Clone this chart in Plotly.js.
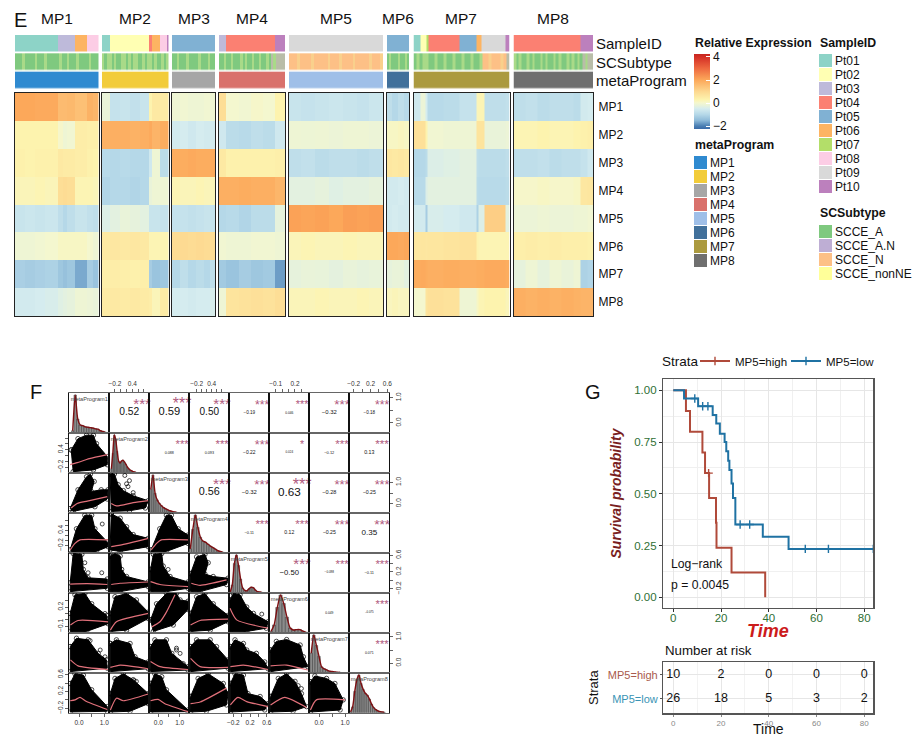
<!DOCTYPE html>
<html><head><meta charset="utf-8">
<script src="https://cdn.plot.ly/plotly-3.0.1.min.js"></script>
<style>html,body{margin:0;padding:0;background:#fff}</style></head>
<body><div id="chart" style="width:920px;height:737px"></div>
<script>
/* ---------- E: heatmap values (relative expression) ---------- */
const rowNames=['MP1','MP2','MP3','MP4','MP5','MP6','MP7','MP8'];
const groupNames=['MP1','MP2','MP3','MP4','MP5','MP6','MP7','MP8'];
const mp1Cells=[0,10,20,30,43,48,52,60,72,78,84];
const mp1Z=[[2,2,1.95,1.95,1.6,1.6,1.65,1.5,1.8,1.7],
[.3,.3,.3,.3,.05,-.1,-.05,.45,.4,.4],
[.35,.3,.35,.35,.55,.5,.5,.45,.35,.3],
[.2,.2,.25,.2,.85,.9,.85,.25,.25,.2],
[-.7,-.65,-.7,-.65,-.85,-1,-.85,-.7,-.8,-.85],
[-.1,-.1,-.05,0,.1,.1,.1,.1,0,-.1],
[-1.15,-1.2,-1.15,-1.1,-1.3,-1.4,-1.3,-1.65,-1.2,-1.35],
[-.55,-.55,-.5,-.45,-.35,-.3,-.25,-.1,-.15,-.2]];
const mp2Cells=[0,8,18,28,38,47,50,58,66];
const mp2Z=[[-.2,-.75,-.7,-.8,-.7,.3,.55,.5],
[1.8,1.85,1.85,1.8,1.85,1.95,1.75,1.9],
[-.95,-1,-.95,-1,-1,-.6,-.1,-.9],
[-1.05,-1,-1,-1.05,-1,-.2,-.1,-.1],
[-.4,-.3,-.2,-.25,-.3,-.7,-.7,-.75],
[.55,.6,.55,.6,.55,.25,.25,.25],
[.4,.45,.4,.35,.4,-1.2,-1.35,-1.3],
[.5,.55,.5,.55,.5,.45,.2,.5]];
const mp3Cells=[0,8,16,24,32,38,43];
const mp3Z=[[-.1,-.05,-.1,-.1,-.05,-.1],
[-.55,-.5,-.6,-.5,-.55,-.55],
[1.9,1.9,1.95,1.9,1.9,1.95],
[.25,.2,.2,.25,.2,.2],
[-.75,-.75,-.8,-.75,-.7,-.75],
[.9,.95,.9,.95,.9,.9],
[-1,-.85,-1,-.9,-1,-.85],
[-.5,-.5,-.55,-.5,-.5,-.45]];
const mp4Cells=[0,7,20,32,44,56,66];
const mp4Z=[[.85,0,-.05,.05,0,.3],
[-.6,-.9,-.95,-.85,-.9,-.6],
[.55,.35,.35,.35,.35,.4],
[1.85,1.85,1.9,1.85,1.85,1.7],
[-1,-.95,-1.05,-.9,-.9,-.25],
[-.05,-.1,-.1,-.05,-.05,-.1],
[-1.25,-1.35,-1.2,-1.3,-1.25,-1.75],
[-.1,.7,.75,.8,.75,.85]];
const mp5Cells=[0,12,26,40,54,68,80,94];
const mp5Z=[[-.7,-.75,-.7,-.65,-.7,-.75,-.65],
[-.1,-.12,-.1,-.15,-.1,-.1,-.15],
[-.85,-.8,-.9,-.85,-.85,-.9,-.85],
[-.3,-.3,-.25,-.35,-.3,-.3,-.25],
[2.1,2.05,2.1,2,2.15,2.1,2.15],
[.2,.25,.2,.2,.25,.2,.2],
[-.25,-.2,-.22,-.28,-.2,-.25,-.22],
[.2,.2,.25,.2,.2,.25,.2]];
const mp6Cells=[0,5,11,17,22];
const mp6Z=[[-.85,-1,-.85,-.95],[.1,.1,.15,.1],[.6,.55,.6,.55],[-.55,-.55,-.5,-.55],
[-.55,-.5,-.55,-.55],[2,2,1.95,2],[-.25,-.2,-.2,-.3],[.15,.2,.15,.15]];
const mp7Cells=[0,7,12,14,30,46,63,65,71,92,96];
const mp7Z=[[-.6,-.15,-.5,-.95,-.9,-.75,.2,.25,-.85,-.8],
[.8,.8,.3,-.05,-.1,-.1,.7,.7,-.2,-.15],
[-1,-1,-.9,-.4,-.35,-.3,-.85,-.9,-.9,-.85],
[-.95,-.95,-.4,-.3,-.3,-.3,-.9,-.95,-.95,-.9],
[-.55,-.55,-1.2,-.45,-.5,-.6,-1.1,-.4,1.2,-.3],
[.6,.65,.6,.65,.7,.75,.3,.25,.25,.25],
[1.9,1.95,1.9,1.85,1.9,1.85,1.9,1.9,1.95,1.9],
[0,0,.7,.8,.75,-.1,.1,.25,.3,.2]];
const mp8Cells=[0,12,24,36,48,60,67,74,80];
const mp8Z=[[-.85,-.8,-.9,-.85,-.85,-.9,-.55,-.5],
[.25,.25,.3,.25,.25,.3,.35,.4],
[-.85,-.85,-.8,-.9,-.85,-.85,-.75,-.6],
[.05,.05,.1,.05,.05,.1,.6,.65],
[-.15,-.15,-.1,-.15,-.15,-.1,-.1,-.05],
[.4,.45,.4,.45,.4,.4,.4,.35],
[-.25,-.1,-.25,-.1,-.2,-.1,-1.1,-1.05],
[1.85,1.8,1.85,1.8,1.85,1.8,1.75,1.75]];

/* ---------- E: annotation tracks (codes into trackColors) ---------- */
const sampleNames=['Pt01','Pt02','Pt03','Pt04','Pt05','Pt06','Pt07','Pt08','Pt09','Pt10'];
const sampleColors=['#8dd3c7','#ffffb3','#bebada','#fb8072','#80b1d3','#fdb462','#b3de69','#fccde5','#d9d9d9','#bc80bd'];
const subtypeNames=['SCCE_A','SCCE_A.N','SCCE_N','SCCE_nonNE'];
const subtypeColors=['#7fc97f','#beaed4','#fdc086','#ffff99'];
const programColors=['#2f8ad0','#f2cc3a','#a6a6a6','#d9716c','#9fbfe8','#41709b','#ab9a3f','#6f6f6f'];
const stripeColors=['#a9da88','#f9d08c','#b9bda8'];
const sample1Cells=[0,43,60,72,84], sample1=[1,3,6,8];
const sample2Cells=[0,8,47,50,58,64.5,66], sample2=[1,2,4,6,8,10];
const sample3Cells=[0,43], sample3=[5];
const sample4Cells=[0,7,56,66], sample4=[3,4,10];
const sample5Cells=[0,94], sample5=[9];
const sample6Cells=[0,22], sample6=[5];
const sample7Cells=[0,7,13,15,46,63,68,92,96], sample7=[1,2,7,4,5,6,9,10];
const sample8Cells=[0,67,80], sample8=[4,10];
const sub1=[1,1,1,13,1,1,1,1,13,1,1,1,13,1,1,1,1,1,13,1,1,13,1,1,1,13,1,1,1,1,13,1,1,1];
const sub2=[13,1,13,13,1,13,1,1,13,13,1,13,1,13,13,1,1,13,1,13,13,1,13,1,1,13,1,13];
const sub3=[1,1,13,1,1,1,13,1,1,1,1,13,1,1,1,13,1,1];
const sub4=[1,1,13,1,1,13,1,1,1,13,1,13,1,1,13,1,1,13,1,1,13,1,15,13,15,15,15,15];
const sub5=[3,3,3,14,3,3,3,3,14,3,3,3,3,3,14,3,3,3,14,3,3,3,3,14,3,3,3,3,3,14,3,3,3,14];
const sub6=[1,13,1,1,1,13,1,1,13,1];
const sub7=[1,13,1,13,13,1,1,13,1,1,13,1,1,13,1,1,13,1,1,13,1,1,13,3,3,14,3,3,3,14,3,15];
const sub8=[13,1,13,1,1,13,1,13,1,1,13,1,13,1,1,13,1,13,1,1,13,1,13,1,13,1,15,13,15,15];

/* ---------- E: colour key ---------- */
const keyValues=[-2.26,-2,-1.5,-1,-.5,-.25,0,.3,1,2,3,4,4.26];
const keyColors=['#3a6aa8','#4a7fb3','#8fbbd9','#b5d8e8','#d5ecef','#e6f2dc','#f4f7cf','#fdf3ae','#fdd890','#fca85a','#ee6a40','#d42f26','#c5261f'];
const keyTicks=[-2,0,2,4];

/* ---------- F: variable scales ---------- */
const varNames=['metaProgram1','metaProgram2','metaProgram3','metaProgram4','metaProgram5','metaProgram6','metaProgram7','metaProgram8'];
const varLo=[-.385,-.397,-.42,-.49,-.296,-.2,-.373,-.305];
const varHi=[1.2,.987,1.45,1.1,.66,.423,1.165,.647];
const tickV=[[0,.5,1],[-.2,0,.2,.4,.6,.8],[0,.5,1],[-.2,0,.2,.4,.6,.8],[-.2,0,.2,.4,.6],[-.1,0,.1,.2,.3],[0,.5,1],[-.2,0,.2,.4,.6]];
const tickT=[['0.0','','1.0'],['−0.2','','','0.4','',''],['0.0','','1.0'],['−0.2','','','0.4','',''],['−0.2','','0.2','','0.6'],['−0.1','','','0.2',''],['0.0','','1.0'],['−0.2','','0.2','','0.6']];

/* F: upper triangle correlations (row, col from 1) */
const corr1=['0.52','0.59','0.50','−0.19','0.046','−0.32','−0.18'];
const corr2=['0.088','0.093','−0.22','0.024','−0.12','0.13'];
const corr3=['0.56','−0.32','0.63','−0.28','−0.25'];
const corr4=['−0.11','0.12','−0.25','0.35'];
const corr5=['−0.50','−0.098','−0.11'];
const corr6=['0.049','−0.075'];
const corr7=['0.071'];
const sig1=['***','***','***','***','***','***','***'];
const sig2=['***','***','***','*','***','***'];
const sig3=['***','***','***','***','***'];
const sig4=['***','***','***','***'];
const sig5=['***','***','***'];
const sig6=['','***'];
const sig7=['***'];

/* F: histogram / density on the diagonal */
const hist1=[[-.25,-.15,-.05,.05,.15,.25,.35,.45,.55,.65,.75,.85,.95,1.05],[.05,.97,.35,.2,.18,.15,.14,.13,.12,.1,.09,.05,.03,.01]];
const hist2=[[-.325,-.275,-.225,-.175,-.125,-.075,-.025,.025,.075,.125,.175,.225,.275,.325,.375,.425,.475,.525],[.1,.5,.97,.85,.55,.3,.25,.3,.32,.28,.22,.15,.1,.07,.05,.03,.02,.01]];
const hist3=[[-.35,-.25,-.15,-.05,.05,.15,.25,.35,.45,.55,.65,.75,.85],[.6,.97,.5,.33,.24,.18,.13,.1,.07,.05,.03,.02,.01]];
const hist4=[[-.45,-.35,-.25,-.15,-.05,.05,.15,.25,.35,.45,.55,.65,.75,.85],[.1,.6,.97,.65,.4,.3,.27,.22,.17,.13,.09,.05,.03,.01]];
const hist5=[[-.275,-.225,-.175,-.125,-.075,-.025,.025,.075,.125,.175,.225,.275,.325,.375,.425,.475],[.02,.2,.75,.97,.7,.35,.12,.06,.05,.1,.14,.13,.07,.03,.02,.01]];
const hist6=[[-.175,-.125,-.075,-.025,.025,.075,.125,.175,.225,.275,.325,.375],[.03,.2,.65,.97,.75,.4,.12,.07,.08,.08,.04,.01]];
const hist7=[[-.3,-.2,-.1,0,.1,.2,.3,.4,.5,.6,.7,.8],[.5,.97,.7,.42,.15,.1,.07,.04,.03,.02,.01,.01]];
const hist8=[[-.275,-.225,-.175,-.125,-.075,-.025,.025,.075,.125,.175,.225,.275,.325,.375,.425,.475,.525],[.02,.15,.55,.85,.97,.75,.6,.5,.45,.35,.22,.13,.08,.05,.03,.02,.01]];
const binWidths=[.1,.05,.1,.1,.05,.05,.1,.05];

/* F: lower triangle, c = outline of the point cloud, o = stray points, l = smoother; names are row then column */
var c21=[[-.31,-.04,.30,.57,.69,1.12,1.12,.57,-.23],[.39,.78,.90,.90,.61,.16,-.12,-.30,-.36]];
var l21=[[-.35,-.07,.41,1.12],[-.12,-.05,.09,.23]];
var c31=[[-.35,-.04,.30,.45,.60,.49,.88,1.15,1.12,.63,-.23],[-.23,.65,1.26,1.38,1.04,.57,.65,.65,.22,-.14,-.36]];
var l31=[[-.31,-.07,.33,1.12],[-.20,.01,.12,.33]];
var c32=[[-.37,-.22,-.09,.09,.43,.95,.85,.30,-.33],[1.39,1.39,.89,.61,.37,.14,-.20,-.33,-.36]];
var o32=[[.14,.30,.20,.25,.43],[1.32,1.08,.93,.80,.52]];
var l32=[[-.33,-.15,.43,.95],[.01,-.10,.05,.14]];
var c41=[[-.35,-.10,.23,.50,.63,1.12,1.15,.69,-.23],[-.38,.46,1.0,1.0,.46,-.06,-.25,-.44,-.46]];
var o41=[[.92],[.65]];
var l41=[[-.35,-.16,.04,1.15],[-.38,-.12,.02,.02]];
var c42=[[-.33,-.02,.20,.43,.95,.95,-.02,-.37],[1.05,.88,.54,.23,.08,-.25,-.44,-.38]];
var l42=[[-.33,-.02,.95],[-.25,-.19,.08]];
var c43=[[-.33,.07,.38,.61,.93,1.39,1.39,.38,-.33],[-.38,.46,1.0,1.0,.46,.21,-.12,-.44,-.46]];
var l43=[[-.33,-.08,.14,1.39],[-.38,-.12,.02,.02]];
var c51=[[-.35,-.23,.11,.17,.36,1.12,1.12,-.35],[-.06,.64,.62,.26,.06,.03,-.19,-.27]];
var o51=[[.90,.36,.23],[.18,.18,.42]];
var l51=[[-.35,.33,1.12],[-.09,-.08,-.10]];
var c52=[[-.37,-.20,-.02,.03,.20,.95,.95,-.02,-.37],[.58,.64,.58,.26,.09,-.04,-.15,-.27,-.27]];
var l52=[[-.33,-.02,.95],[-.10,-.07,-.04]];
var c53=[[-.36,-.23,.16,.23,.55,1.39,1.39,.38,-.36],[.26,.62,.64,.34,.09,-.04,-.19,-.27,-.27]];
var o53=[[.46],[.26]];
var l53=[[-.36,.08,1.39],[-.03,-.10,-.15]];
var c54=[[-.44,-.20,.13,.26,.13,.46,1.05,.99,-.06,-.44],[.16,.56,.62,.42,.15,.09,.05,-.10,-.27,-.27]];
var l54=[[-.41,-.06,.99],[-.07,-.12,.01]];
var c61=[[-.35,-.16,.23,.50,1.09,1.15,.30,-.35],[.10,.39,.41,.25,.07,-.06,-.18,-.18]];
var o61=[[1.03,1.12],[.10,.02]];
var l61=[[-.34,-.04,1.15],[-.08,-.01,-.03]];
var c62=[[-.36,-.20,.20,.54,.95,.95,.20,-.36],[.10,.36,.41,.31,.12,.02,-.16,-.18]];
var l62=[[-.36,-.15,.95],[-.16,-.03,.10]];
var c63=[[-.36,-.08,.38,.85,1.02,1.39,1.39,.70,-.23],[0,.25,.41,.41,.31,.29,.16,-.08,-.18]];
var l63=[[-.31,.08,.38,.78],[-.11,-.03,.12,.39]];
var c64=[[-.44,-.20,.13,.46,1.05,1.05,.34,-.44],[.10,.36,.41,.25,.07,-.03,-.16,-.18]];
var l64=[[-.44,-.06,1.05],[-.08,-.01,.01]];
var c65=[[-.28,-.20,-.04,.12,.28,.63,.59,.12,-.28],[.31,.41,.39,.20,.10,-.03,-.13,-.18,-.18]];
var o65=[[.48],[.09]];
var l65=[[-.28,-.12,.63],[.18,0,-.13]];
var c71=[[-.35,-.10,.36,.76,1.09,1.12,-.35],[.63,.95,.89,.37,.12,-.20,-.33]];
var o71=[[1.03,.84,.44],[.24,.50,.86]];
var l71=[[-.34,-.04,1.15],[.12,-.11,-.25]];
var c72=[[-.36,-.15,.32,.49,.95,.95,-.36],[.75,.89,.75,.24,.04,-.22,-.33]];
var l72=[[-.36,-.02,.95],[-.17,-.08,-.22]];
var c73=[[-.36,-.16,.38,.63,1.39,1.39,-.36],[.63,.89,.89,.37,-.14,-.27,-.33]];
var o73=[[.85,1.02,.70,1.17,.85],[.50,.37,.24,-.02,.57]];
var l73=[[-.36,.08,1.39],[.06,-.14,-.25]];
var c74=[[-.44,-.20,.34,.59,1.05,1.05,-.44],[.63,.89,.89,.63,.12,-.20,-.33]];
var l74=[[-.44,-.06,1.05],[.18,-.14,-.17]];
var c75=[[-.27,-.16,.04,.12,.35,.55,.63,-.27],[.63,.89,.75,.50,.37,.04,-.22,-.33]];
var l75=[[-.27,.04,.63],[-.14,-.08,-.25]];
var c76=[[-.18,-.09,.07,.28,.33,.40,-.18],[.50,.83,.90,.69,.24,-.14,-.33]];
var l76=[[-.18,.07,.40],[-.11,-.08,-.27]];
var c81=[[-.35,-.16,.17,.50,1.12,1.12,-.35],[.39,.62,.59,.24,-.16,-.27,-.29]];
var l81=[[-.35,-.16,.04,.30,1.12],[-.02,0,.06,-.04,-.23]];
var c82=[[-.36,-.20,.09,.43,.95,.95,.32,-.36],[.15,.51,.62,.48,.15,-.09,-.27,-.29]];
var o82=[[.46,.54],[.46,.44]];
var l82=[[-.36,-.15,.09,.95],[-.24,.04,-.02,.14]];
var c83=[[-.36,-.16,.16,.38,1.39,1.39,-.36],[.39,.62,.55,.24,-.24,-.28,-.29]];
var l83=[[-.36,-.01,.31,1.39],[-.02,.01,-.09,-.28]];
var c84=[[-.44,-.14,.26,.86,1.05,.99,.19,-.44],[.08,.51,.62,.39,.15,-.12,-.27,-.29]];
var l84=[[-.44,-.06,.99],[-.09,-.05,.28]];
var c85=[[-.27,-.16,.04,.15,.44,.63,.55,-.27],[.39,.62,.59,.15,.08,-.09,-.24,-.29]];
var l85=[[-.27,-.09,.12,.63],[-.12,.06,-.04,-.16]];
var c86=[[-.18,-.06,.07,.20,.30,.38,.17,-.18],[.08,.51,.62,.44,.15,-.16,-.27,-.29]];
var o86=[[.25,.30],[.34,.27]];
var l86=[[-.18,.04,.38],[-.12,.06,-.18]];
var c87=[[-.33,-.16,.29,.61,.93,.81,-.33],[.43,.57,.51,.39,0,-.24,-.29]];
var l87=[[-.33,-.10,1.0],[-.24,0,0]];

/* ---------- G: survival ---------- */
const highT=[0,5.3,7,12.2,13.3,15,17.9,18.1,24.4,38.5];
const highS=[1,.9,.8,.7,.6,.48,.36,.24,.12,0];
const highCensT=[14.8]; const highCensS=[.6];
const lowT=[0,4.5,10.4,16.5,18,19.5,21.5,22.2,23,23.5,24.4,25,26,37.5,48.3,83.8];
const lowS=[1,.96,.923,.88,.84,.79,.75,.705,.66,.615,.55,.48,.352,.293,.234,.234];
const lowCensT=[9,12.3,14.5,28,32,55.3,65,83.8];
const lowCensS=[.96,.923,.923,.352,.352,.234,.234,.234];
const riskTimes=[0,20,40,60,80];
const riskHigh=[10,2,0,0,0];
const riskLow=[26,18,5,3,2];

/* ---------- build ---------- */
const W=920,H=737,FONT='Liberation Sans, Arial, sans-serif';
const layout={width:W,height:H,margin:{l:0,r:0,t:0,b:0},paper_bgcolor:'#fff',plot_bgcolor:'#fff',
  font:{family:FONT,color:'#111'},annotations:[],bargap:0,showlegend:true};
const traces=[];
let axN=0;
function panel(l,t,r,b,xa,ya){
  axN++;const s=axN===1?'':axN;
  const base={showgrid:false,zeroline:false,showticklabels:false,ticks:''};
  layout['xaxis'+s]=Object.assign({domain:[l/W,r/W],anchor:'y'+s},base,xa);
  layout['yaxis'+s]=Object.assign({domain:[1-b/H,1-t/H],anchor:'x'+s},base,ya);
  return {xaxis:'x'+s,yaxis:'y'+s,showlegend:false,hoverinfo:'skip'};
}
function note(text,x,y,size,o){layout.annotations.push(Object.assign({text,x:x/W,y:1-y/H,xref:'paper',yref:'paper',
  showarrow:false,font:{size,family:FONT},xanchor:'left',yanchor:'middle',borderpad:0},o||{}));}
const norm=v=>(v-keyValues[0])/(keyValues[keyValues.length-1]-keyValues[0]);
layout.coloraxis={cmin:keyValues[0],cmax:keyValues[keyValues.length-1],
  colorscale:keyValues.map((v,i)=>[norm(v),keyColors[i]]),
  colorbar:{x:694/W,xanchor:'left',xpad:0,y:1-54/H,yanchor:'top',ypad:0,len:75,lenmode:'pixels',thickness:16,
    tickvals:keyTicks,ticks:'inside',ticklen:4,tickcolor:'#fff',tickfont:{size:12,family:FONT},outlinewidth:0}};
const trackColors=sampleColors.concat(subtypeColors,programColors,stripeColors);
const nTrack=trackColors.length,trackScale=[];
trackColors.forEach((c,i)=>{trackScale.push([i/nTrack,c],[(i+1)/nTrack,c]);});
layout.coloraxis2={cmin:.5,cmax:nTrack+.5,colorscale:trackScale,showscale:false};

const groups=[
 {px:[15,98.5],cells:mp1Cells,z:mp1Z,s:sample1,sc:sample1Cells,sub:sub1,label:57},
 {px:[102,168.5],cells:mp2Cells,z:mp2Z,s:sample2,sc:sample2Cells,sub:sub2,label:135},
 {px:[172,215],cells:mp3Cells,z:mp3Z,s:sample3,sc:sample3Cells,sub:sub3,label:194},
 {px:[219,285],cells:mp4Cells,z:mp4Z,s:sample4,sc:sample4Cells,sub:sub4,label:252},
 {px:[289,383],cells:mp5Cells,z:mp5Z,s:sample5,sc:sample5Cells,sub:sub5,label:336},
 {px:[387,409],cells:mp6Cells,z:mp6Z,s:sample6,sc:sample6Cells,sub:sub6,label:398},
 {px:[413.5,509.5],cells:mp7Cells,z:mp7Z,s:sample7,sc:sample7Cells,sub:sub7,label:461},
 {px:[513.5,593],cells:mp8Cells,z:mp8Z,s:sample8,sc:sample8Cells,sub:sub8,label:553}];
const border={showline:true,mirror:true,linecolor:'#222',linewidth:1};
groups.forEach((g,i)=>{
  const N=g.cells[g.cells.length-1],last=i===7;
  const a=panel(g.px[0],35,g.px[1],90,{range:[0,N]},Object.assign({range:[0,3]},last?{side:'right',showticklabels:true,ticklabelstandoff:2,
    tickmode:'array',tickvals:[.5,1.5,2.5],ticktext:['metaProgram','SCSubtype','SampleID'],tickfont:{size:15,family:FONT}}:{}));
  const track=(edges,yy,z)=>traces.push(Object.assign({type:'heatmap',x:edges,y:yy,z:[z],coloraxis:'coloraxis2',ygap:1.5},a));
  track(g.sc,[2,3],g.s);
  track(g.sub.concat([0]).map((_,k)=>k*N/g.sub.length),[1,2],g.sub.map(v=>v+10));
  track([0,N],[0,1],[15+i]);
  const h=panel(g.px[0],93,g.px[1],316,Object.assign({range:[0,N]},border),
    Object.assign({type:'category',range:[7.5,-.5]},border,last?{side:'right',showticklabels:true,ticklabelstandoff:2,tickmode:'array',
      tickvals:rowNames,ticktext:rowNames,tickfont:{size:12,family:FONT}}:{}));
  traces.push(Object.assign({type:'heatmap',x:g.cells,y:rowNames,z:g.z,coloraxis:'coloraxis'},h));
  note(groupNames[i],g.label,19,15.5,{xanchor:'center'});
});
note('E',13,20,20); note('F',29,392,20); note('G',584,392,20);
note('<b>Relative Expression</b>',694,43,12.3);
note('<b>SampleID</b>',819,43,12.3);
note('<b>metaProgram</b>',694,145,12.3);
note('<b>SCSubtype</b>',819,213,12.3);
function swatches(l,t,b,names,first){
  const a=panel(l,t,l+13,b,{range:[-.5,.5]},{type:'category',range:[names.length-.5,-.5],side:'right',showticklabels:true,ticklabelstandoff:2,
    tickmode:'array',tickvals:names,ticktext:names,tickfont:{size:12,family:FONT}});
  traces.push(Object.assign({type:'heatmap',x:[0],y:names,z:names.map((_,k)=>[first+k]),coloraxis:'coloraxis2',ygap:1},a));
}
swatches(694,156,268,groupNames,15);
swatches(819,54,194,sampleNames,1);
swatches(819,225,281,subtypeNames,11);

/* F grid */
const cellL=69.3,cellT=392.7,cell=40,lineH='#666',lineV='#111';
const corrRows=[corr1,corr2,corr3,corr4,corr5,corr6,corr7],sigRows=[sig1,sig2,sig3,sig4,sig5,sig6,sig7];
const hists=[hist1,hist2,hist3,hist4,hist5,hist6,hist7,hist8];
const emW=s=>[...s].reduce((w,ch)=>w+(ch==='.'?.278:ch==='−'?.584:.556),0);
for(let r=0;r<8;r++)for(let c=0;c<8;c++){
  const l=cellL+c*cell,t=cellT+r*cell;
  const tick=(i,o)=>Object.assign({tickmode:'array',tickvals:tickV[i],ticktext:tickT[i],ticks:'outside',ticklen:3,tickwidth:.7,
    tickcolor:'#222',showticklabels:true,tickfont:{size:6.5,family:FONT,color:'#333'}},o);
  let xa={range:[varLo[c],varHi[c]],showline:true,mirror:true,linecolor:lineH,linewidth:1};
  let ya={showline:true,mirror:true,linecolor:lineV,linewidth:1};
  if(r===0&&c%2===1)xa=Object.assign(xa,tick(c,{side:'top'}));
  if(r===7&&c%2===0)xa=Object.assign(xa,tick(c,{side:'bottom'}));
  ya.range=r===c?[0,1.03]:[varLo[r],varHi[r]];
  if(c===0&&r%2===1)ya=Object.assign(ya,tick(r,{side:'left',tickangle:-90}));
  if(c===7&&r%2===0)ya=Object.assign(ya,tick(r,{side:'right',tickangle:-90}));
  const a=panel(l,t,l+cell,t+cell,xa,ya);
  const sx=varHi[c]-varLo[c],sy=varHi[r]-varLo[r];
  if(r===c){
    const h=hists[r];
    traces.push(Object.assign({type:'bar',x:h[0],y:h[1],width:binWidths[r],marker:{color:'#8c8c8c',line:{color:'#222',width:.4}}},a));
    traces.push(Object.assign({type:'scatter',mode:'lines',x:h[0],y:h[1],line:{color:'#7d0f12',width:1.4,shape:'spline',smoothing:.6}},a));
    traces.push(Object.assign({type:'scatter',mode:'text',x:[varLo[c]+.5*sx],y:[.86],text:[varNames[c]],cliponaxis:false,
      textfont:{size:5.6,color:'#444',family:FONT}},a));
  }else if(r<c){
    const lab=corrRows[r][c-r-1],sig=sigRows[r][c-r-1],val=Math.abs(parseFloat(lab.replace('−','-')));
    traces.push(Object.assign({type:'scatter',mode:'text',x:[varLo[c]+.5*sx],y:[varLo[r]+.5*sy],text:[lab],cliponaxis:false,
      textfont:{size:(7+25*val)/emW(lab),color:'#111',family:FONT}},a));
    if(sig)traces.push(Object.assign({type:'scatter',mode:'text',x:[varLo[c]+.82*sx],y:[varLo[r]+.68*sy],text:[sig],cliponaxis:false,
      textfont:{size:10.5+9*val,color:'#b05a80',family:FONT}},a));
  }else{
    const key=''+(r+1)+(c+1),cl=window['c'+key],ln=window['l'+key],ot=window['o'+key];
    traces.push(Object.assign({type:'scatter',mode:'lines+markers',x:cl[0].concat(cl[0][0]),y:cl[1].concat(cl[1][0]),fill:'toself',fillcolor:'#000',
      line:{color:'#000',width:1},marker:{symbol:'circle-open',size:4.5,color:'#000',line:{width:.7}},cliponaxis:true},a));
    if(ot)traces.push(Object.assign({type:'scatter',mode:'markers',x:ot[0],y:ot[1],
      marker:{symbol:'circle-open',size:4,color:'#000',line:{width:.7}}},a));
    traces.push(Object.assign({type:'scatter',mode:'lines',x:ln[0],y:ln[1],line:{color:'#e0707a',width:1.2,shape:'spline',smoothing:.6}},a));
  }
}

/* G */
const greyGrid={showgrid:true,gridcolor:'#e6e6e6',gridwidth:1};
const frame={showline:true,mirror:true,linecolor:'#555',linewidth:1.4,zeroline:false};
const km=panel(663.3,379.3,873.3,607.7,
  Object.assign({range:[-4.19,83.8],tickvals:riskTimes,ticks:'outside',ticklen:3,tickcolor:'#333',showticklabels:true,ticklabelstandoff:-4,
    tickfont:{size:11.5,color:'#2f6f35',family:FONT},minor:{showgrid:true,gridcolor:'#f0f0f0',dtick:10,tick0:0}},greyGrid,frame),
  Object.assign({range:[-.05,1.053],tickvals:[0,.25,.5,.75,1],tickformat:'.2f',ticks:'outside',ticklen:3,tickcolor:'#333',showticklabels:true,
    tickfont:{size:11.5,color:'#2f6f35',family:FONT},minor:{showgrid:true,gridcolor:'#f0f0f0',dtick:.125,tick0:0},
    title:{text:'<b><i>Survival probability</i></b>',font:{size:14,color:'#7a1f1f',family:FONT},standoff:9}},greyGrid,frame));
note('<b><i>Time</i></b>',768,630.5,18,{xanchor:'center',font:{size:18,color:'#cc1b1b',family:FONT}});
const redC='#b04a3a',blueC='#1f72a3';
const censor=c=>({symbol:'cross-thin-open',size:6,color:c,line:{color:c,width:1.4}});
traces.push(Object.assign({},km,{type:'scatter',mode:'lines',x:highT,y:highS,line:{color:redC,width:2,shape:'hv'}}));
traces.push(Object.assign({},km,{type:'scatter',mode:'lines',x:lowT,y:lowS,line:{color:blueC,width:2,shape:'hv'},cliponaxis:true}));
traces.push(Object.assign({},km,{type:'scatter',mode:'markers',x:highCensT,y:highCensS,marker:censor(redC)}));
traces.push(Object.assign({},km,{type:'scatter',mode:'markers',x:lowCensT,y:lowCensS,marker:censor(blueC)}));
traces.push(Object.assign({},km,{type:'scatter',mode:'lines+markers',x:[-100,-99],y:[-5,-5],name:'MP5=high',showlegend:true,line:{color:redC,width:2},marker:censor(redC)}));
traces.push(Object.assign({},km,{type:'scatter',mode:'lines+markers',x:[-100,-99],y:[-5,-5],name:'MP5=low',showlegend:true,line:{color:blueC,width:2},marker:censor(blueC)}));
layout.annotations.push({text:'Log−rank',x:-1.8,y:.16,xref:km.xaxis,yref:km.yaxis,showarrow:false,xanchor:'left',font:{size:12.2,family:FONT}});
layout.annotations.push({text:'p = 0.0045',x:-1.8,y:.06,xref:km.xaxis,yref:km.yaxis,showarrow:false,xanchor:'left',font:{size:12.2,family:FONT}});
note('Strata',660.5,361.5,13.5);
layout.legend={orientation:'h',x:695/W,xanchor:'left',y:1-346.5/H,yanchor:'top',
  font:{size:11.5,family:FONT},bgcolor:'rgba(0,0,0,0)',itemwidth:30,entrywidth:46,entrywidthmode:'pixels'};

const risk=panel(663.3,662,873.3,713.3,
  Object.assign({range:[-4.19,83.8],tickvals:riskTimes,ticks:'outside',ticklen:2,tickcolor:'#888',showticklabels:true,
    tickfont:{size:8,color:'#888',family:FONT},minor:{showgrid:true,gridcolor:'#f3f3f3',dtick:10,tick0:0},
    title:{text:'Time',font:{size:14,family:FONT},standoff:5}},greyGrid,frame),
  Object.assign({range:[-.596,1.54],tickvals:[0,1],ticktext:['<span style="color:#3a94b5">MP5=low</span>','<span style="color:#a95a4c">MP5=high</span>'],
    ticks:'outside',ticklen:2,tickcolor:'#555',showticklabels:true,tickfont:{size:11,family:FONT},
    title:{text:'Strata',font:{size:13,family:FONT},standoff:6}},greyGrid,frame));
traces.push(Object.assign({},risk,{type:'scatter',mode:'text',x:riskTimes,y:riskTimes.map(()=>1),text:riskHigh.map(String),textfont:{size:12.5,family:FONT,color:'#111'}}));
traces.push(Object.assign({},risk,{type:'scatter',mode:'text',x:riskTimes,y:riskTimes.map(()=>0),text:riskLow.map(String),textfont:{size:12.5,family:FONT,color:'#111'}}));
note('Number at risk',663.7,650,13.3);

Plotly.newPlot('chart',traces,layout,{staticPlot:true,displayModeBar:false});
</script></body></html>
